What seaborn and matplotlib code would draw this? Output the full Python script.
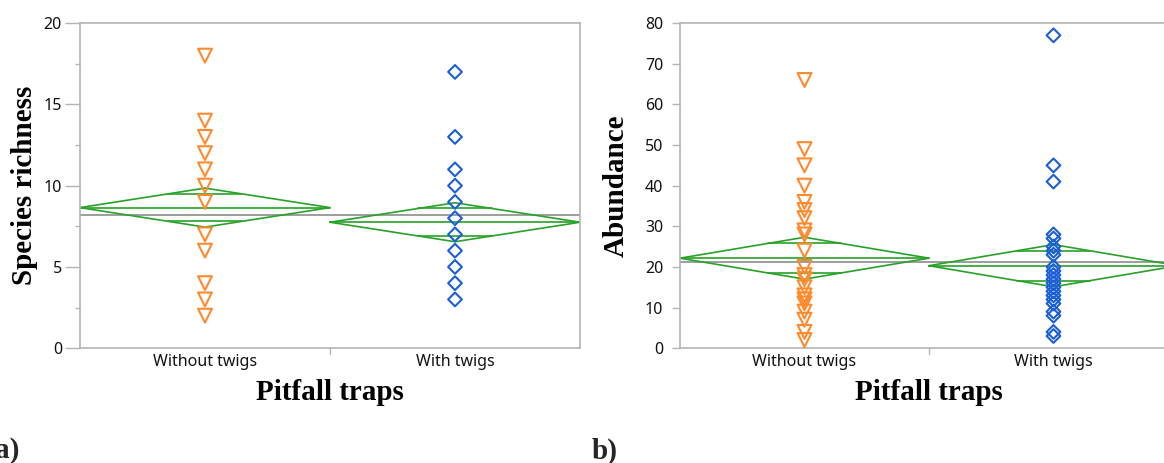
import numpy as np
import pandas as pd
import matplotlib
matplotlib.use("Agg")
import matplotlib.pyplot as plt
from matplotlib.ticker import MultipleLocator
import seaborn as sns

# ─── Data ────────────────────────────────────────────────────────────────────
groups = ["Without twigs", "With twigs"]

rich_without = [18, 14, 13, 12, 11, 10, 9, 7, 6, 4, 3, 2]
rich_with    = [17, 13, 11, 10, 9, 8, 7, 6, 5, 4, 3]
rich_mean    = [8.65, 7.75]
rich_ci_lo   = [7.45, 6.55]
rich_ci_hi   = [9.85, 8.95]
rich_grand   = 8.2

abun_without = [66, 49, 45, 40, 36, 34, 32, 29, 28, 24, 20, 18, 17, 15,
                13, 12, 11, 9, 7, 4, 2]
abun_with    = [77, 45, 41, 28, 27, 25, 24, 23, 20, 19, 18, 17, 16, 15,
                14, 13, 12, 11, 9, 8, 4, 3]
abun_mean    = [22.15, 20.3]
abun_ci_lo   = [17.0, 15.1]
abun_ci_hi   = [27.3, 25.5]
abun_grand   = 21.2

ORANGE = "#FF8A2E"
BLUE   = "#1A5FD6"
GREEN  = "#27A127"
GREY   = "#8C8C8C"
FRAME  = "#B4B4B4"

sns.set_theme(style="white")
plt.rcParams["font.family"] = ["Noto Sans", "DejaVu Sans"]

SERIF = ["Liberation Serif", "DejaVu Serif"]


def make_frame(without, with_):
    return pd.concat([
        pd.DataFrame({"trap": groups[0], "value": without}),
        pd.DataFrame({"trap": groups[1], "value": with_}),
    ], ignore_index=True)


def draw_panel(ax, df, means, lo, hi, grand, ylim, major, minor, ylabel,
               tick_len, tick_pad, label_x):
    markers = ["v", "D"]
    colors = [ORANGE, BLUE]
    sizes = [10, 7]
    for i, g in enumerate(groups):
        sub = df[df["trap"] == g]
        sns.stripplot(data=sub, x="trap", y="value", order=groups,
                      jitter=False, marker=markers[i], size=sizes[i],
                      color=colors[i], ax=ax, zorder=3,
                      facecolors="none", edgecolor=colors[i], linewidth=1.5)

    # means diamonds (JMP style)
    for i in range(2):
        m, a, b = means[i], lo[i], hi[i]
        ax.plot([i - 0.5, i, i + 0.5, i, i - 0.5], [m, b, m, a, m],
                color=GREEN, lw=1.2, zorder=2)
        ax.plot([i - 0.5, i + 0.5], [m, m], color=GREEN, lw=1.2, zorder=2)
        d = (b - a) / 2 / np.sqrt(2)
        w = 0.5 * (1 - 1 / np.sqrt(2))
        for yy in (m - d, m + d):
            ax.plot([i - w, i + w], [yy, yy], color=GREEN, lw=1.2, zorder=2)
    ax.axhline(grand, color=GREY, lw=1.2, zorder=1)

    ax.set_xlim(-0.5, 1.5)
    ax.set_ylim(*ylim)
    ax.yaxis.set_major_locator(MultipleLocator(major))
    if minor:
        ax.yaxis.set_minor_locator(MultipleLocator(minor))
    ax.set_xticks([0, 1])
    ax.set_xticklabels(groups)
    ax.tick_params(axis="x", length=0, labelsize=11.5, colors="#111111", pad=4)
    ax.tick_params(axis="y", which="major", length=tick_len, width=1,
                   pad=tick_pad, color=FRAME, labelsize=11.5,
                   labelcolor="#111111", left=True)
    ax.tick_params(axis="y", which="minor", length=3.5, width=1,
                   color=FRAME, left=True)
    # boundary tick between the two groups
    ax.plot([0.5, 0.5], [0, -0.018], transform=ax.get_xaxis_transform(),
            color=FRAME, lw=1, clip_on=False)
    for s in ax.spines.values():
        s.set_color(FRAME)
        s.set_linewidth(1.2)
    ax.set_xlabel("Pitfall traps", family=SERIF, fontweight="bold",
                  fontsize=21, labelpad=7, color="black")
    ax.set_ylabel(ylabel, family=SERIF, fontweight="bold",
                  fontsize=21, color="black")
    ax.yaxis.set_label_coords(label_x, 0.5)


fig = plt.figure(figsize=(11.64, 4.63), dpi=100)
ax1 = fig.add_axes([0.0687, 0.248, 0.4296, 0.702])
ax2 = fig.add_axes([0.5842, 0.248, 0.4278, 0.702])

draw_panel(ax1, make_frame(rich_without, rich_with), rich_mean, rich_ci_lo,
           rich_ci_hi, rich_grand, (0, 20), 5, 2.5, "Species richness",
           11, 2, -0.083)
draw_panel(ax2, make_frame(abun_without, abun_with), abun_mean, abun_ci_lo,
           abun_ci_hi, abun_grand, (0, 80), 10, None, "Abundance",
           6, 6, -0.100)

fig.text(-0.004, 0.026, "a)", family=SERIF, fontweight="bold", fontsize=21,
         va="center")
fig.text(0.508, 0.026, "b)", family=SERIF, fontweight="bold", fontsize=21,
         va="center")

fig.savefig("out.png", dpi=100)
